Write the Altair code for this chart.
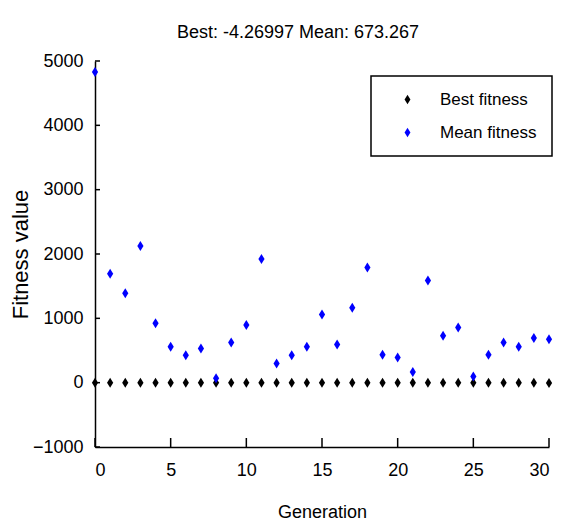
import altair as alt
import pandas as pd

FONT = "Liberation Sans, Arial, sans-serif"

generations = list(range(31))
best_fitness = [0.0, 0.0, 0.0, 0.0, 0.0, 0.0, 0.0, 0.0, 0.0, 0.0, 0.0,
                0.0, 0.0, 0.0, 0.0, 0.0, 0.0, 0.0, 0.0, 0.0, 0.0,
                0.0, 0.0, 0.0, 0.0, 0.0, 0.0, 0.0, 0.0, 0.0, -4.26997]
mean_fitness = [4828, 1694, 1391, 2125, 922, 560, 428, 531, 69, 625, 897,
                1922, 297, 428, 560, 1060, 594, 1163, 1792, 433, 391,
                167, 1589, 730, 859, 94, 433, 625, 558, 694, 673.267]
series_names = ["Best fitness", "Mean fitness"]
series_colors = ["#000000", "#0000ff"]
x_ticks = [0, 5, 10, 15, 20, 25, 30]
y_ticks = [-1000, 0, 1000, 2000, 3000, 4000, 5000]

rows = []
for g, b in zip(generations, best_fitness):
    rows.append({"gen": g, "value": b, "series": series_names[0], "order": 0})
for g, m in zip(generations, mean_fitness):
    rows.append({"gen": g, "value": m, "series": series_names[1], "order": 1})
df = pd.DataFrame(rows)

DIAMOND = "M0,-1L0.62,0L0,1L-0.62,0Z"

xscale = alt.Scale(domain=[0, 30], nice=False, zero=False)
yscale = alt.Scale(domain=[-1000, 5000], nice=False, zero=False)

points = alt.Chart(df).mark_point(filled=True, shape=DIAMOND, size=100, opacity=1).encode(
    x=alt.X("gen:Q", scale=xscale,
            axis=alt.Axis(values=x_ticks, format="d", title="Generation", tickSize=0,
                          labelPadding=14, labelFontSize=18,
                          titleX=227, titleY=70, titleBaseline="alphabetic", titleFontSize=18)),
    y=alt.Y("value:Q", scale=yscale,
            axis=alt.Axis(values=y_ticks, format="d", title="Fitness value", tickSize=0,
                          labelPadding=12, labelFontSize=18,
                          titleX=-75, titleY=193, titleAngle=270, titleAlign="center",
                          titleBaseline="middle", titleFontSize=22)),
    color=alt.Color("series:N", scale=alt.Scale(domain=series_names, range=series_colors),
                    legend=alt.Legend(title=None)),
    order=alt.Order("order:Q"),
)

xtick_df = pd.DataFrame({"t": x_ticks, "y0": [-1000] * len(x_ticks), "y1": [-860] * len(x_ticks)})
ytick_df = pd.DataFrame({"t": y_ticks, "x0": [0] * len(y_ticks), "x1": [0.33] * len(y_ticks)})

xticks = alt.Chart(xtick_df).mark_rule(color="#000000", strokeWidth=1.5).encode(
    x=alt.X("t:Q", scale=xscale), y=alt.Y("y0:Q", scale=yscale), y2="y1:Q")
yticks = alt.Chart(ytick_df).mark_rule(color="#000000", strokeWidth=1.5).encode(
    y=alt.Y("t:Q", scale=yscale), x=alt.X("x0:Q", scale=xscale), x2="x1:Q")

chart = alt.layer(xticks, yticks, points).properties(
    width=454,
    height=386,
    background="#ffffff",
    title=alt.TitleParams("Best: -4.26997 Mean: 673.267", font=FONT, fontSize=18,
                          fontWeight="normal", color="#000000", anchor="middle",
                          offset=10, dx=-24),
    padding={"left": 95, "top": 61, "right": 12, "bottom": 73},
    autosize=alt.AutoSizeParams(type="none"),
).configure_view(stroke=None).configure_axis(
    grid=False, domainColor="#000000", domainWidth=1.5, labelColor="#000000",
    labelFont=FONT, titleFont=FONT,
    titleFontWeight="normal", titleColor="#000000",
).configure_legend(
    orient="none", legendX=276, legendY=15, fillColor="#ffffff", strokeColor="#000000",
    strokeWidth=1.5, padding=15, symbolType=DIAMOND, symbolSize=90, symbolOffset=13,
    labelOffset=24, labelFont=FONT, labelFontSize=17, labelColor="#000000",
    rowPadding=15, symbolStrokeWidth=0,
)

chart.save("out.html", embed_options={"renderer": "svg", "actions": False})
